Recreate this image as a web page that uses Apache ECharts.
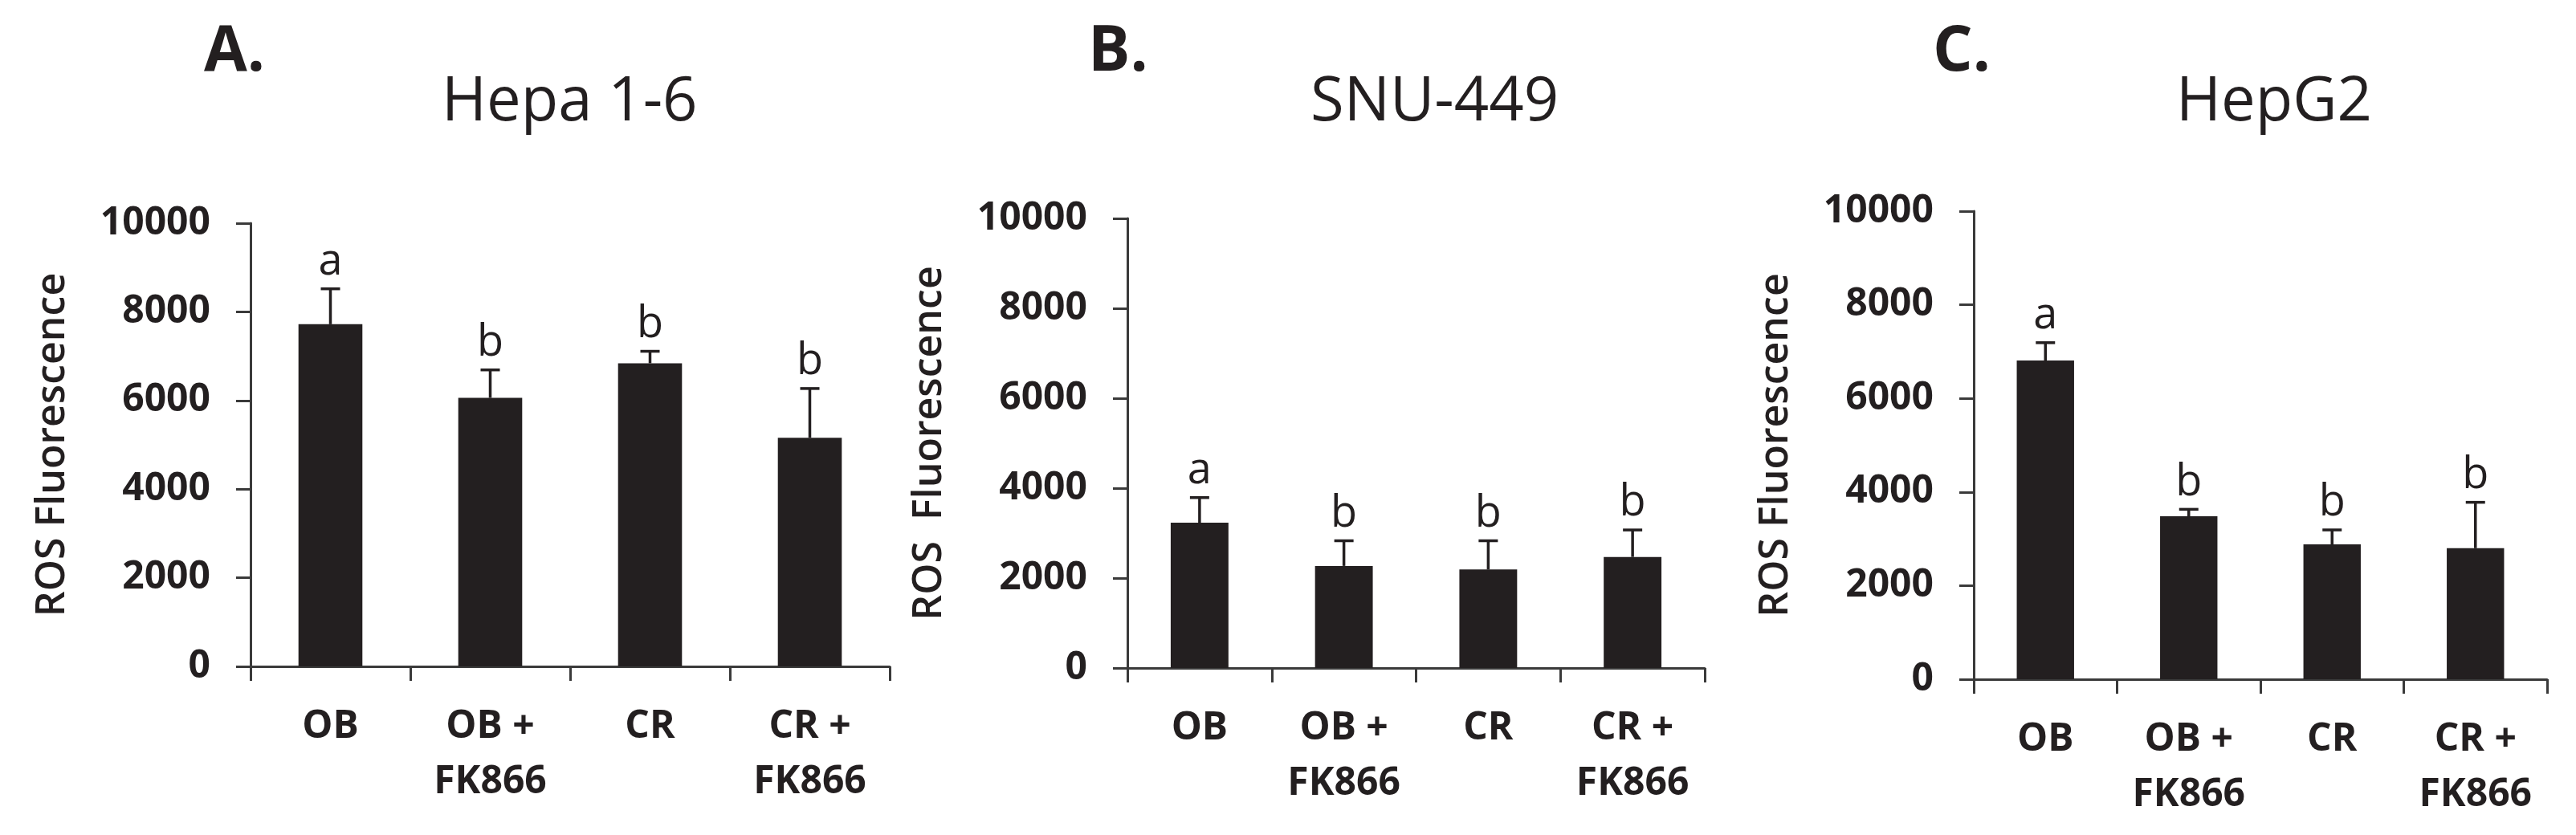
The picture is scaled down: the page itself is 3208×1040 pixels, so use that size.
<!DOCTYPE html>
<html>
<head>
<meta charset="utf-8">
<script src="https://cdn.jsdelivr.net/npm/echarts@6/dist/echarts.min.js"></script>
<style>
  html, body { margin: 0; padding: 0; background: #fff; }
  #chart { width: 3208px; height: 1040px; }
</style>
</head>
<body>
<div id="chart"></div>
<script>
// categories shared by the three panels
var categories = ['OB', 'OB +\nFK866', 'CR', 'CR +\nFK866'];
var yTicks = [0, 2000, 4000, 6000, 8000, 10000];

// A. Hepa 1-6
var hepaMean = [7720, 6060, 6840, 5160];
var hepaErr = [800, 630, 270, 1110];
var hepaLetters = ['a', 'b', 'b', 'b'];

// B. SNU-449
var snuMean = [3230, 2270, 2190, 2470];
var snuErr = [560, 560, 640, 600];
var snuLetters = ['a', 'b', 'b', 'b'];

// C. HepG2
var hepgMean = [6810, 3480, 2880, 2800];
var hepgErr = [380, 150, 310, 980];
var hepgLetters = ['a', 'b', 'b', 'b'];

var ink = '#231f20';
var axisCol = '#3a3a3a';
var fontFam = '"Open Sans", "DejaVu Sans", sans-serif';

var panels = [
  {mean: hepaMean, err: hepaErr, letters: hepaLetters, name: 'ROS Fluorescence',
   grid: {left: 312, top: 278, width: 796, height: 552}},
  {mean: snuMean, err: snuErr, letters: snuLetters, name: 'ROS  Fluorescence',
   grid: {left: 1404, top: 272, width: 719, height: 560}},
  {mean: hepgMean, err: hepgErr, letters: hepgLetters, name: 'ROS Fluorescence',
   grid: {left: 2458, top: 263, width: 714, height: 583}}
];

var chart = echarts.init(document.getElementById('chart'));

var grids = [], xAxes = [], yAxes = [], series = [];

panels.forEach(function (p, k) {
  grids.push(p.grid);
  xAxes.push({
    type: 'category',
    gridIndex: k,
    data: categories,
    axisLine: {lineStyle: {color: axisCol, width: 3}},
    axisTick: {show: true, length: 18, interval: 0, lineStyle: {color: axisCol, width: 3}},
    axisLabel: {
      interval: 0, margin: 41, color: ink, fontFamily: fontFam,
      fontSize: 48, fontWeight: 'bold', lineHeight: 69, verticalAlign: 'top'
    }
  });
  yAxes.push({
    type: 'value',
    gridIndex: k,
    min: yTicks[0],
    max: yTicks[yTicks.length - 1],
    interval: 2000,
    name: p.name,
    nameLocation: 'middle',
    nameGap: 221,
    nameRotate: 90,
    nameTextStyle: {color: ink, fontFamily: fontFam, fontSize: 50, fontWeight: 600},
    axisLine: {show: true, lineStyle: {color: axisCol, width: 3}},
    axisTick: {show: true, length: 18, lineStyle: {color: axisCol, width: 3}},
    splitLine: {show: false},
    axisLabel: {
      margin: 50, color: ink, fontFamily: fontFam, fontSize: 48, fontWeight: 'bold',
      formatter: function (v) { return String(v); }
    }
  });
  series.push({
    type: 'bar',
    xAxisIndex: k,
    yAxisIndex: k,
    data: p.mean,
    barWidth: '40%',
    itemStyle: {color: ink}
  });
  var letters = p.letters;
  series.push({
    type: 'custom',
    xAxisIndex: k,
    yAxisIndex: k,
    z: 5,
    data: p.mean.map(function (m, i) { return [i, m, m + p.err[i]]; }),
    encode: {x: 0, y: [1, 2]},
    renderItem: function (params, api) {
      var base = api.coord([api.value(0), api.value(1)]);
      var top = api.coord([api.value(0), api.value(2)]);
      var half = 12;
      var st = {stroke: ink, lineWidth: 3.5};
      return {
        type: 'group',
        children: [
          {type: 'line', shape: {x1: base[0], y1: base[1], x2: top[0], y2: top[1]}, style: st},
          {type: 'line', shape: {x1: top[0] - half, y1: top[1], x2: top[0] + half, y2: top[1]}, style: st},
          {type: 'text', x: top[0], y: top[1] - 6,
           style: {text: letters[params.dataIndex], fill: ink, align: 'center', verticalAlign: 'bottom',
                   font: 'normal 54px ' + fontFam}}
        ]
      };
    }
  });
});

function label(txt, x, y, size, weight) {
  return {type: 'text', x: x, y: y,
          style: {text: txt, fill: ink, align: 'left', verticalAlign: 'middle',
                  font: weight + ' ' + size + 'px ' + fontFam}};
}

chart.setOption({
  animation: false,
  backgroundColor: '#ffffff',
  grid: grids,
  xAxis: xAxes,
  yAxis: yAxes,
  series: series,
  graphic: [
    label('A.', 254, 66, 78, 'bold'),
    label('Hepa 1-6', 550, 128, 76, 'normal'),
    label('B.', 1355, 66, 78, 'bold'),
    label('SNU-449', 1632, 128, 76, 'normal'),
    label('C.', 2407, 66, 78, 'bold'),
    label('HepG2', 2710, 128, 76, 'normal')
  ]
});
</script>
</body>
</html>
